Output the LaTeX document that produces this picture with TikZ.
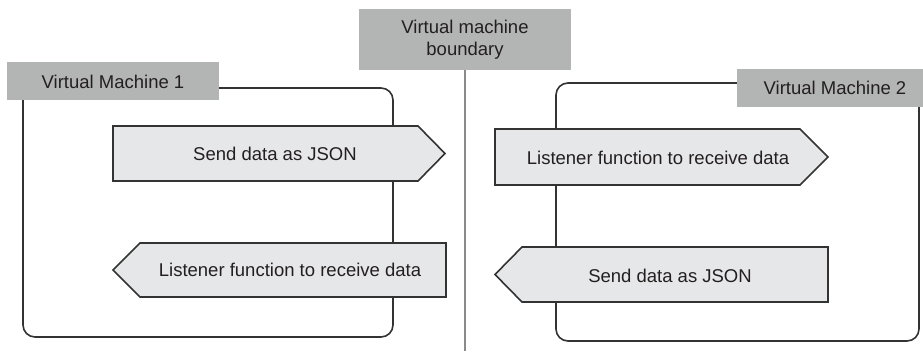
\documentclass[tikz,border=0pt]{standalone}
\usepackage{fontspec}
\setmainfont{Liberation Sans}
\definecolor{labelgray}{HTML}{B3B5B5}
\definecolor{arrowfill}{HTML}{E6E7E8}
\definecolor{edgecol}{HTML}{333333}
\definecolor{txtcol}{HTML}{231F20}
\definecolor{linegray}{HTML}{8A8A8A}
\begin{document}
\begin{tikzpicture}[x=1pt,y=-1pt,
  vmbox/.style={draw=edgecol,line width=1.6pt,rounded corners=12pt},
  tag/.style={fill=labelgray,draw=none},
  arrowshape/.style={fill=arrowfill,draw=edgecol,line width=1.6pt,line join=miter},
  txt/.style={text=txtcol,font=\fontsize{18.5}{22}\selectfont,inner sep=0pt},
  bline/.style={draw=linegray,line width=2.4pt}]
\useasboundingbox (0,0) rectangle (923,351);
% boundary
\fill[tag] (359,9) rectangle (571,70);
\node[txt,align=center] (bnd) at (465,40) {Virtual machine\\boundary};
\coordinate (bndtop) at (465,70);
\coordinate (bndbot) at (465,351);
\draw[bline] (bndtop) -- (bndbot);
% VM1
\draw[vmbox] (23,88) rectangle (393,337);
\fill[tag] (7,62) rectangle (219,100);
\node[txt] (vm1) at (113,82) {Virtual Machine 1};
\draw[arrowshape] (113,126) -- (418,126) -- (445,153.5) -- (418,181) -- (113,181) -- cycle;
\node[txt] (s1) at (275,154) {Send data as JSON};
\draw[arrowshape] (140,243) -- (446,243) -- (446,297) -- (140,297) -- (113,270) -- cycle;
\node[txt] (l1) at (290,270) {Listener function to receive data};
% VM2
\draw[vmbox] (556,83) rectangle (919,341);
\fill[tag] (737,69) rectangle (923,107);
\node[txt] (vm2) at (835,88) {Virtual Machine 2};
\draw[arrowshape] (495,129) -- (800,129) -- (828,157) -- (800,185) -- (495,185) -- cycle;
\node[txt] (l2) at (658,158) {Listener function to receive data};
\draw[arrowshape] (522,247) -- (828,247) -- (828,302) -- (522,302) -- (495,274.5) -- cycle;
\node[txt] (s2) at (670,276) {Send data as JSON};
\end{tikzpicture}
\end{document}
